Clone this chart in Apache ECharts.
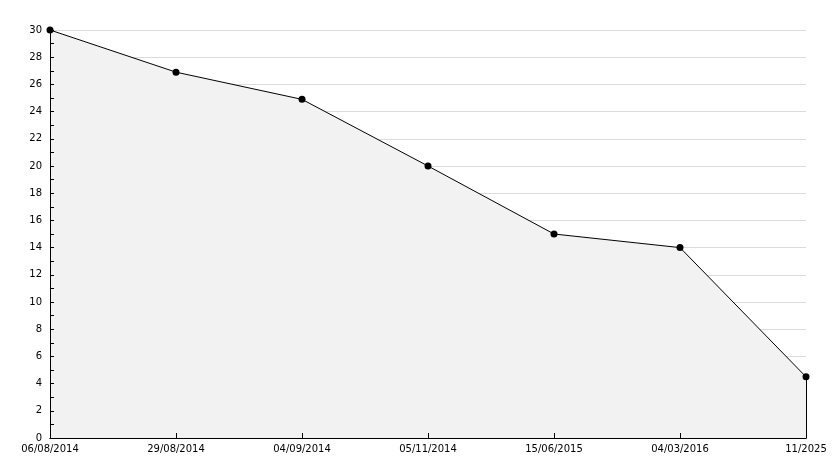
<!DOCTYPE html>
<html><head><meta charset="utf-8">
<script src="https://cdn.jsdelivr.net/npm/echarts@6/dist/echarts.min.js"></script>
<style>html,body{margin:0;padding:0;background:#fff}#c{width:834px;height:468px}</style>
</head><body><div id="c"></div>
<script>
const categories = ['06/08/2014','29/08/2014','04/09/2014','05/11/2014','15/06/2015','04/03/2016','11/2025'];
const values = [30, 26.9, 24.9, 20, 15, 14, 4.5];
const yMin = 0, yMax = 30, yInterval = 2;

const chart = echarts.init(document.getElementById('c'), null, {renderer:'canvas'});
const font = {fontFamily:'DejaVu Sans', fontSize:10, color:'#000'};
const starPath = 'path://M4,0 L6,2 L8,2 L8,4 L10,6 L8,8 L8,10 L6,10 L4,12 L2,10 L0,10 L0,8 L-2,6 L0,4 L0,2 L2,2 Z';
chart.setOption({
  animation:false,
  backgroundColor:'#fff',
  grid:{left:50, right:28, top:30, bottom:30, containLabel:false},
  xAxis:[{
    type:'category', data:categories, boundaryGap:false,
    axisLine:{lineStyle:{color:'#000', width:1}},
    axisTick:{show:false},
    axisLabel:Object.assign({margin:6, interval:0, showMinLabel:true, showMaxLabel:true}, font),
    splitLine:{show:false}
  },{
    type:'category', data:categories, boundaryGap:false, position:'bottom', z:10,
    axisLine:{show:true, lineStyle:{color:'#000', width:1}},
    axisTick:{show:true, inside:true, length:5, interval:0, lineStyle:{color:'#000'}},
    axisLabel:{show:false}, splitLine:{show:false}
  }],
  yAxis:[{
    type:'value', min:yMin, max:yMax, interval:yInterval,
    axisLine:{show:true, lineStyle:{color:'#000', width:1}},
    axisTick:{show:false},
    axisLabel:Object.assign({margin:8}, font),
    splitLine:{show:true, lineStyle:{color:'#dcdcdc', width:1}}
  },{
    type:'value', min:yMin, max:yMax, interval:yInterval, position:'left', z:10,
    axisLine:{show:true, lineStyle:{color:'#000', width:1}},
    axisTick:{show:true, inside:true, length:4, lineStyle:{color:'#000'}},
    minorTick:{show:true, splitNumber:2, length:4, lineStyle:{color:'#000'}},
    axisLabel:{show:false}, splitLine:{show:false}
  }],
  series:[{
    type:'line', data:values,
    symbol:'circle', symbolSize:7,
    itemStyle:{color:'#000'},
    lineStyle:{color:'#000', width:1},
    areaStyle:{color:'#f2f2f2', opacity:1},
    z:5,
    markLine:{
      silent:true, symbol:'none', label:{show:false},
      lineStyle:{color:'#000', width:1, type:'solid'},
      data:[[{coord:[categories[categories.length-1], 0]},{coord:[categories[categories.length-1], values[values.length-1]]}]]
    }
  }]
});
</script></body></html>
